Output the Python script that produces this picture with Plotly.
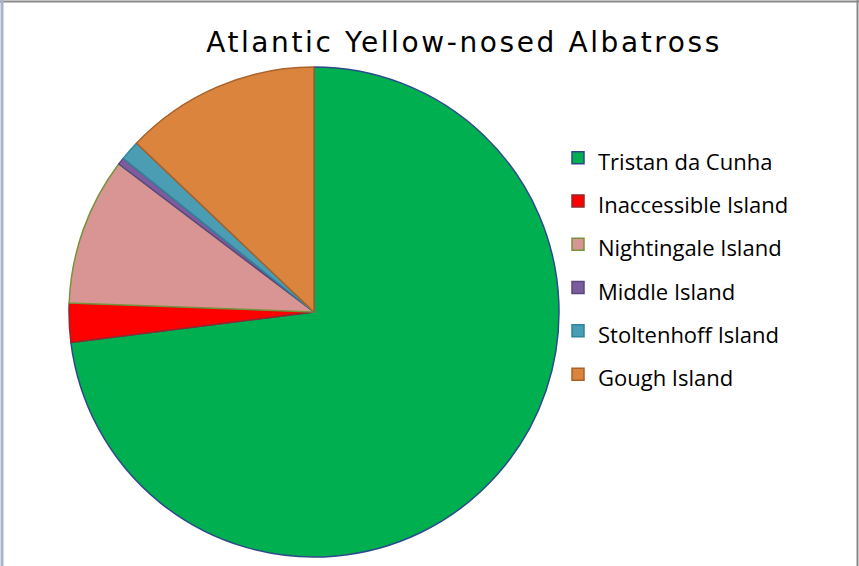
import plotly.graph_objects as go

title_text = "Atlantic Yellow-nosed Albatross"
labels = ["Tristan da Cunha", "Inaccessible Island", "Nightingale Island",
          "Middle Island", "Stoltenhoff Island", "Gough Island"]
values = [30000, 1060, 4000, 190, 540, 5300]
fill_colors = ["#00B050", "#FF0000", "#D99594", "#7B5C9E", "#4A9DB3", "#DA843D"]
edge_colors = ["#2E4A8A", "#8E2A2A", "#77933C", "#5D4580", "#31849B", "#A8622A"]

W, H = 859, 566
disp_labels = ['<span style="font-size:22px">%s</span>' % l for l in labels]

fig = go.Figure(go.Pie(
    labels=disp_labels,
    values=values,
    sort=False,
    direction="clockwise",
    rotation=0,
    textinfo="none",
    hoverinfo="label+value+percent",
    marker=dict(colors=fill_colors, line=dict(color=edge_colors, width=1.5)),
    domain=dict(x=[69 / W, 559 / W], y=[9 / H, 499 / H]),
))

fig.update_layout(
    width=W, height=H,
    margin=dict(l=0, r=0, t=0, b=0),
    paper_bgcolor="white",
    plot_bgcolor="white",
    font=dict(family="Open Sans, Lato, sans-serif", color="black"),
    title=dict(text='<span style="letter-spacing:2.6px">%s</span>' % title_text,
               x=464 / W, xanchor="center", y=1 - 42 / H, yanchor="middle",
               font=dict(family="DejaVu Sans, Verdana, sans-serif", size=28, color="black")),
    legend=dict(x=558 / W, xanchor="left", y=1 - 131 / H, yanchor="top",
                font=dict(size=31, family="Open Sans, Lato, sans-serif", color="black"),
                itemwidth=30, bgcolor="rgba(0,0,0,0)"),
    shapes=[
        dict(type="line", xref="paper", yref="paper", x0=0, x1=1, y0=1 - 1.5 / H, y1=1 - 1.5 / H,
             line=dict(color="#8A8A8A", width=2)),
        dict(type="line", xref="paper", yref="paper", x0=2 / W, x1=2 / W, y0=0, y1=1,
             line=dict(color="#A9B4C8", width=3)),
        dict(type="line", xref="paper", yref="paper", x0=1 - 1.5 / W, x1=1 - 1.5 / W, y0=0, y1=1,
             line=dict(color="#8A8A8A", width=2)),
    ],
)

fig.write_html("out.html", config={"displayModeBar": False},
               post_script="document.body.style.margin='0';")
